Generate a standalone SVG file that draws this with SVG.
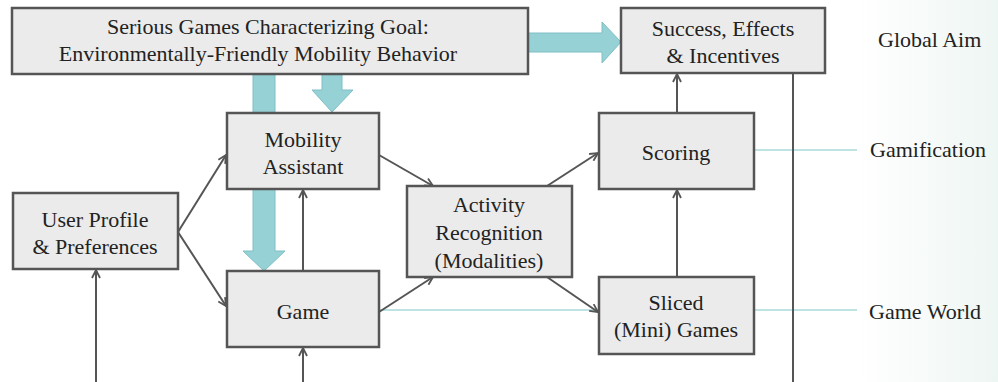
<svg xmlns="http://www.w3.org/2000/svg" width="998" height="382" viewBox="0 0 998 382">
  <defs>
    <linearGradient id="bg" x1="0" y1="0" x2="1" y2="0">
      <stop offset="0" stop-color="#ffffff"/>
      <stop offset="0.86" stop-color="#ffffff"/>
      <stop offset="1" stop-color="#eef6f3"/>
    </linearGradient>
    <marker id="arr" viewBox="0 0 10 10" refX="9" refY="5" markerWidth="10" markerHeight="10" markerUnits="userSpaceOnUse" orient="auto">
      <path d="M1,1 L9,5 L1,9" fill="none" stroke="#555" stroke-width="1.8"/>
    </marker>
    <style>
      .box { fill: #ebebeb; stroke: #555; stroke-width: 2.5; }
      .t { font-family: 'Liberation Serif', 'Times New Roman', serif; font-size: 22px; fill: #222; text-anchor: middle; }
      .lbl { font-family: 'Liberation Serif', 'Times New Roman', serif; font-size: 22px; fill: #222; }
      .con { fill: none; stroke: #555; stroke-width: 2; }
      .big { fill: #96d1d6; stroke: #7fbfc5; stroke-width: 1; }
      .thin { fill: none; stroke: #a9dad9; stroke-width: 1.5; }
    </style>
  </defs>
  <rect width="998" height="382" fill="url(#bg)"/>

  <g id="big-arrows">
    <polygon class="big" points="253,74 275,74 275,251 285,251 264,271 243,251 253,251"/>
    <polygon class="big" points="322,74 342,74 342,90 353,90 332,112 312,90 322,90"/>
    <polygon class="big" points="528,33 602,33 602,22 621,42 602,63 602,52 528,52"/>
  </g>

  <g id="layer-lines">
    <line class="thin" x1="754" y1="150" x2="857" y2="150"/>
    <line class="thin" x1="379" y1="310" x2="857" y2="310"/>
  </g>

  <g id="connectors">
    <line class="con" x1="178" y1="232" x2="226" y2="155" marker-end="url(#arr)"/>
    <line class="con" x1="178" y1="232" x2="226" y2="306" marker-end="url(#arr)"/>
    <line class="con" x1="303" y1="271" x2="303" y2="190" marker-end="url(#arr)"/>
    <line class="con" x1="303" y1="382" x2="303" y2="348" marker-end="url(#arr)"/>
    <line class="con" x1="96" y1="382" x2="96" y2="270" marker-end="url(#arr)"/>
    <line class="con" x1="379" y1="155" x2="433" y2="186" marker-end="url(#arr)"/>
    <line class="con" x1="379" y1="312" x2="433" y2="277" marker-end="url(#arr)"/>
    <line class="con" x1="547" y1="186" x2="598" y2="153" marker-end="url(#arr)"/>
    <line class="con" x1="547" y1="277" x2="598" y2="312" marker-end="url(#arr)"/>
    <line class="con" x1="677" y1="277" x2="677" y2="190" marker-end="url(#arr)"/>
    <line class="con" x1="677" y1="113" x2="677" y2="74" marker-end="url(#arr)"/>
    <line class="con" x1="793" y1="74" x2="793" y2="382" stroke-width="2.5"/>
  </g>

  <g id="goal">
    <rect class="box" x="12" y="8" width="516" height="66"/>
    <text class="t" x="268" y="34">Serious Games Characterizing Goal:</text>
    <text class="t" x="258" y="61">Environmentally-Friendly Mobility Behavior</text>
  </g>

  <g id="success">
    <rect class="box" x="621" y="8" width="204" height="65"/>
    <text class="t" x="723" y="36">Success, Effects</text>
    <text class="t" x="723" y="63">&amp; Incentives</text>
  </g>

  <g id="mobility-assistant">
    <rect class="box" x="227" y="113" width="152" height="76"/>
    <text class="t" x="303" y="147">Mobility</text>
    <text class="t" x="303" y="174">Assistant</text>
  </g>

  <g id="user-profile">
    <rect class="box" x="13" y="193" width="165" height="76"/>
    <text class="t" x="95" y="227">User Profile</text>
    <text class="t" x="95" y="254">&amp; Preferences</text>
  </g>

  <g id="game">
    <rect class="box" x="227" y="271" width="152" height="76"/>
    <text class="t" x="303" y="319">Game</text>
  </g>

  <g id="activity-recognition">
    <rect class="box" x="407" y="186" width="165" height="91"/>
    <text class="t" x="489" y="212">Activity</text>
    <text class="t" x="489" y="240">Recognition</text>
    <text class="t" x="489" y="268">(Modalities)</text>
  </g>

  <g id="scoring">
    <rect class="box" x="599" y="113" width="155" height="76"/>
    <text class="t" x="676" y="160">Scoring</text>
  </g>

  <g id="sliced-games">
    <rect class="box" x="599" y="277" width="155" height="77"/>
    <text class="t" x="676" y="310">Sliced</text>
    <text class="t" x="676" y="337">(Mini) Games</text>
  </g>

  <g id="labels">
    <text class="lbl" x="878" y="47">Global Aim</text>
    <text class="lbl" x="870" y="157">Gamification</text>
    <text class="lbl" x="869" y="319">Game World</text>
  </g>
</svg>
